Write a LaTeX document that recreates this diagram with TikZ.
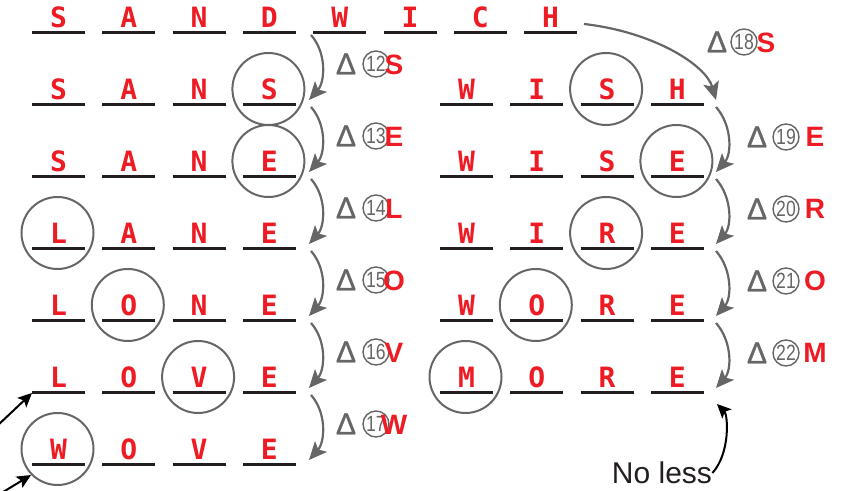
\documentclass[tikz,border=0pt]{standalone}
\usepackage{fontspec}
\usepackage{graphicx}
\setmainfont{Liberation Sans}
\newfontfamily\slotfont{DejaVu Sans Mono}
\newfontfamily\deltafont[FakeBold=1.2]{Liberation Sans}
\usetikzlibrary{arrows.meta}

\definecolor{wordred}{HTML}{ED1C24}
\definecolor{arrowgray}{HTML}{666666}
\definecolor{ink}{HTML}{231F20}

\tikzset{
  letter/.style={text=wordred, anchor=base, inner sep=0pt,
    font=\slotfont\bfseries\fontsize{14}{16}\selectfont},
  slotline/.style={draw=ink, line width=1.5pt},
  ring/.style={draw=arrowgray, line width=1pt},
  shiftarrow/.style={draw=arrowgray, line width=1.1pt,
    -{Stealth[length=9pt,width=8pt,inset=2pt]}},
  deltasign/.style={text=arrowgray, inner sep=0pt, font=\deltafont\fontsize{15}{16}\selectfont},
  cnum/.style={circle, draw=arrowgray, line width=0.7pt, minimum size=13pt,
    inner sep=0pt, text=arrowgray, font=\fontsize{11}{12}\selectfont},
  addletter/.style={text=wordred, inner sep=0pt, font=\bfseries\fontsize{14}{15}\selectfont},
  blackarrow/.style={draw=black, line width=1pt, -{Stealth[length=7pt,width=6.5pt,inset=1.5pt]}},
  notetext/.style={text=ink, inner sep=0pt, font=\fontsize{15}{16}\selectfont}
}

\begin{document}
\begin{tikzpicture}[x=0.5pt,y=-0.5pt]
\useasboundingbox (0,0) rectangle (842,491);

% top word
\foreach \ch [count=\i from 0] in {S,A,N,D,W,I,C,H}
{
  \node[letter] (w-\i) at ({58.5+70.3*\i},28) {\ch};
  \draw[slotline] ({32+70.3*\i},33) -- ++(53,0);
}

% left column
\foreach \a/\b/\c/\d [count=\r] in {S/A/N/S,S/A/N/E,L/A/N/E,L/O/N/E,L/O/V/E,W/O/V/E}
  \foreach \ch [count=\i from 0] in {\a,\b,\c,\d}
  {
    \node[letter] (l\r-\i) at ({58.5+70.3*\i},{28+72*\r}) {\ch};
    \draw[slotline] ({32+70.3*\i},{33+72*\r}) -- ++(53,0);
  }

% right column
\foreach \a/\b/\c/\d [count=\r] in {W/I/S/H,W/I/S/E,W/I/R/E,W/O/R/E,M/O/R/E}
  \foreach \ch [count=\i from 0] in {\a,\b,\c,\d}
  {
    \node[letter] (r\r-\i) at ({466.5+70.3*\i},{28+72*\r}) {\ch};
    \draw[slotline] ({440+70.3*\i},{33+72*\r}) -- ++(53,0);
  }

% changed letters
\foreach \r/\i in {1/3,2/3,3/0,4/1,5/2,6/0}
  \draw[ring] ([shift={(-1,-11)}]l\r-\i.base) circle (36);
\foreach \r/\i in {1/2,2/3,3/2,4/1,5/0}
  \draw[ring] ([shift={(-1,-11)}]r\r-\i.base) circle (36);

% steps down the left column
\foreach \r in {0,...,6}
{
  \coordinate (ls\r) at (311,{35+72*\r});
  \coordinate (le\r) at (309,{100+72*(\r-1)});
}
\foreach \r [evaluate=\r as \n using int(\r+1)] in {0,...,5}
  \draw[shiftarrow] (ls\r) .. controls +(16,18) and +(16,-18) .. (le\n);

% steps down the right column
\foreach \r in {1,...,5}
{
  \coordinate (rs\r) at (716,{35+72*\r});
  \coordinate (re\r) at (716,{100+72*(\r-1)});
}
\coordinate (hend) at (584,24);
\draw[shiftarrow] (hend) .. controls +(70,8) and +(-10,-35) .. (re1);
\foreach \r [evaluate=\r as \n using int(\r+1)] in {1,...,4}
  \draw[shiftarrow] (rs\r) .. controls +(16,18) and +(16,-18) .. (re\n);

% step labels
\foreach \n/\t [count=\k from 0] in {12/S,13/E,14/L,15/O,16/V,17/W}
{
  \node[deltasign] (d\n) at (346,{64+72*\k}) {Δ};
  \node[cnum] (c\n) at (376,{64+72*\k}) {\scalebox{0.8}[1]{\n}};
  \node[addletter] (t\n) at (394,{65+72*\k}) {\t};
}
\node[deltasign] (d18) at (717,42) {Δ};
\node[cnum] (c18) at (744,42) {\scalebox{0.8}[1]{18}};
\node[addletter] (t18) at (766,43) {S};
\foreach \n/\t [count=\k from 0] in {19/E,20/R,21/O,22/M}
{
  \node[deltasign] (d\n) at (757,{137+72*\k}) {Δ};
  \node[cnum] (c\n) at (786,{137+72*\k}) {\scalebox{0.8}[1]{\n}};
  \node[addletter] (t\n) at (815,{137+72*\k}) {\t};
}

% pointers
\coordinate (p1) at (-4,427);
\coordinate (love) at (32,393);
\coordinate (p2) at (-10,500);
\coordinate (wove) at (31,475);
\draw[blackarrow] (p1) -- (love);
\draw[blackarrow] (p2) -- (wove);

\node[notetext] (noless) at (662,473) {No less};
\coordinate (more) at (717,404);
\draw[blackarrow] (noless.east) .. controls +(18,-20) and +(11,11) .. (more);

\end{tikzpicture}
\end{document}
